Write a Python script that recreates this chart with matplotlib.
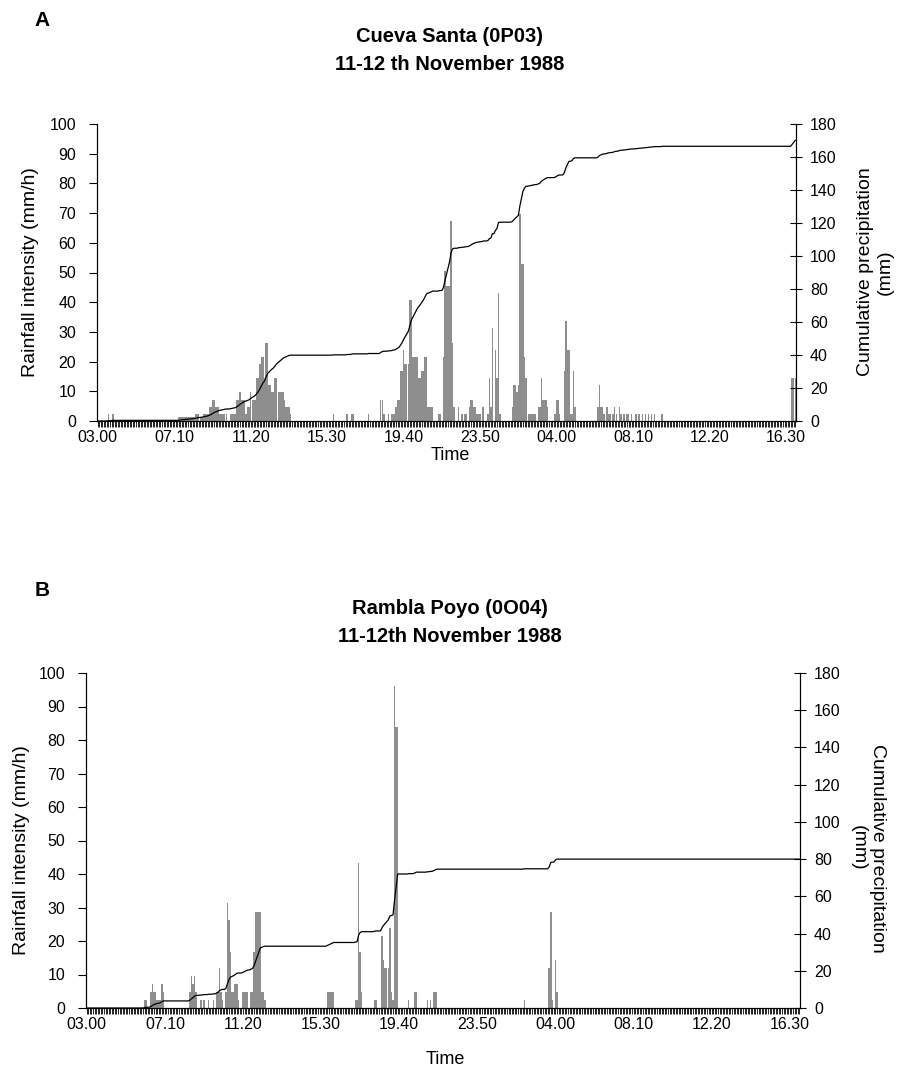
import numpy as np
import matplotlib
matplotlib.use("Agg")
import matplotlib.pyplot as plt
from matplotlib import font_manager

# 5-minute rainfall intensity (mm/h), 03.00 on the 11th to 17.00 on the 12th
# one row per hour, 12 readings each
rain_a = [
    0, 0, 0, 0, 0, 0, 0, 2.4, 0, 0, 2.4, 0,                      # 03
    0, 0, 0, 0, 0, 0, 0, 0, 0, 0, 0, 0,                          # 04
    0, 0, 0, 0, 0, 0, 0, 0, 0, 0, 0, 0,                          # 05
    0, 0, 0, 0, 0, 0, 0, 0, 0, 0, 0, 0,                          # 06
    0, 0, 0, 0, 0, 1.2, 1.2, 1.2, 1.2, 1.2, 1.2, 1.2,            # 07
    1.2, 1.2, 1.2, 1.2, 2.4, 2.4, 2.4, 1.2, 1.2, 2.4, 2.4, 2.4,  # 08
    2.4, 4.8, 4.8, 7.2, 7.2, 4.8, 4.8, 4.8, 2.4, 2.4, 2.4, 2.4,  # 09
    2.4, 0, 0, 2.4, 2.4, 2.4, 2.4, 7.2, 7.2, 9.6, 7.2, 7.2,      # 10
    7.2, 2.4, 4.8, 4.8, 9.6, 7.2, 7.2, 7.2, 14.4, 14.4, 19.2, 21.6,    # 11
    21.6, 14.4, 26.4, 26.4, 12, 12, 9.6, 9.6, 14.4, 14.4, 9.6, 9.6,    # 12
    9.6, 9.6, 7.2, 4.8, 4.8, 4.8, 2.4, 0, 0, 0, 0, 0,            # 13
    0, 0, 0, 0, 0, 0, 0, 0, 0, 0, 0, 0,                          # 14
    0, 0, 0, 0, 0, 0, 0, 0, 0, 0, 2.4, 0,                        # 15
    0, 0, 0, 0, 0, 0, 0, 2.4, 0, 0, 2.4, 2.4,                    # 16
    0, 0, 0, 0, 0, 0, 0, 0, 0, 2.4, 0, 0,                        # 17
    0, 0, 0, 0, 0, 7.2, 7.2, 2.4, 0, 0, 2.4, 0,                  # 18
    2.4, 2.4, 2.4, 4.8, 7.2, 7.2, 16.8, 16.8, 24, 19.2, 19.2, 19.2,    # 19
    40.8, 40.8, 21.6, 21.6, 21.6, 21.6, 14.4, 14.4, 16.8, 16.8, 21.6, 21.6,  # 20
    4.8, 4.8, 4.8, 4.8, 0, 0, 0, 2.4, 2.4, 0, 21.6, 50.4,        # 21
    45.6, 45.6, 45.6, 67.2, 26.4, 4.8, 0, 0, 4.8, 0, 2.4, 0,     # 22
    2.4, 2.4, 0, 4.8, 7.2, 7.2, 4.8, 4.8, 2.4, 2.4, 2.4, 0,      # 23
    4.8, 0, 0, 2.4, 14.4, 4.8, 31.2, 0, 24, 14.4, 43.2, 2.4,     # 00
    0, 0, 0, 0, 0, 0, 0, 4.8, 12, 12, 9.6, 12,                   # 01
    69.6, 52.8, 52.8, 21.6, 14.4, 0, 2.4, 2.4, 2.4, 2.4, 2.4, 0, # 02
    4.8, 4.8, 14.4, 7.2, 7.2, 7.2, 4.8, 0, 0, 0, 0, 2.4,         # 03
    7.2, 7.2, 2.4, 0, 0, 16.8, 33.6, 24, 24, 2.4, 2.4, 16.8,     # 04
    4.8, 0, 0, 0, 0, 0, 0, 0, 0, 0, 0, 0,                        # 05
    0, 0, 0, 4.8, 12, 4.8, 4.8, 2.4, 0, 4.8, 2.4, 2.4,           # 06
    0, 2.4, 4.8, 2.4, 0, 4.8, 2.4, 0, 2.4, 0, 2.4, 2.4,          # 07
    0, 2.4, 0, 0, 2.4, 0, 2.4, 0, 2.4, 0, 2.4, 0,                # 08
    2.4, 0, 2.4, 0, 2.4, 0, 0, 0, 0, 2.4, 0, 0,                  # 09
    0, 0, 0, 0, 0, 0, 0, 0, 0, 0, 0, 0,                          # 10
    0, 0, 0, 0, 0, 0, 0, 0, 0, 0, 0, 0,                          # 11
    0, 0, 0, 0, 0, 0, 0, 0, 0, 0, 0, 0,                          # 12
    0, 0, 0, 0, 0, 0, 0, 0, 0, 0, 0, 0,                          # 13
    0, 0, 0, 0, 0, 0, 0, 0, 0, 0, 0, 0,                          # 14
    0, 0, 0, 0, 0, 0, 0, 0, 0, 0, 0, 0,                          # 15
    0, 0, 0, 0, 0, 0, 0, 0, 0, 0, 14.4, 14.4,                    # 16
    14.4,                                                        # 17
]

rain_b = [
    0, 0, 0, 0, 0, 0, 0, 0, 0, 0, 0, 0,                          # 03
    0, 0, 0, 0, 0, 0, 0, 0, 0, 0, 0, 0,                          # 04
    0, 0, 0, 0, 0, 0, 0, 0, 0, 0, 0, 0,                          # 05
    0, 2.4, 2.4, 0, 0, 4.8, 7.2, 4.8, 4.8, 2.4, 2.4, 2.4,        # 06
    7.2, 4.8, 0, 0, 0, 0, 0, 0, 0, 0, 0, 0,                      # 07
    0, 0, 0, 0, 0, 0, 4.8, 9.6, 7.2, 9.6, 4.8, 0,                # 08
    0, 2.4, 0, 2.4, 0, 0, 2.4, 0, 0, 2.4, 0, 4.8,                # 09
    4.8, 12, 4.8, 2.4, 0, 4.8, 31.2, 26.4, 16.8, 4.8, 4.8, 7.2,  # 10
    7.2, 2.4, 0, 0, 4.8, 4.8, 4.8, 4.8, 0, 4.8, 4.8, 16.8,       # 11
    28.8, 28.8, 28.8, 28.8, 4.8, 4.8, 2.4, 0, 0, 0, 0, 0,        # 12
    0, 0, 0, 0, 0, 0, 0, 0, 0, 0, 0, 0,                          # 13
    0, 0, 0, 0, 0, 0, 0, 0, 0, 0, 0, 0,                          # 14
    0, 0, 0, 0, 0, 0, 0, 0, 0, 0, 4.8, 4.8,                      # 15
    4.8, 4.8, 4.8, 0, 0, 0, 0, 0, 0, 0, 0, 0,                    # 16
    0, 0, 0, 0, 2.4, 2.4, 43.2, 16.8, 4.8, 0, 0, 0,              # 17
    0, 0, 0, 0, 2.4, 2.4, 0, 0, 0, 21.6, 14.4, 12,               # 18
    12, 12, 24, 4.8, 2.4, 96, 84, 84, 0, 0, 0, 0,                # 19
    0, 0, 2.4, 0, 0, 0, 4.8, 4.8, 0, 0, 0, 0,                    # 20
    0, 0, 2.4, 0, 2.4, 0, 4.8, 4.8, 4.8, 0, 0, 0,                # 21
    0, 0, 0, 0, 0, 0, 0, 0, 0, 0, 0, 0,                          # 22
    0, 0, 0, 0, 0, 0, 0, 0, 0, 0, 0, 0,                          # 23
    0, 0, 0, 0, 0, 0, 0, 0, 0, 0, 0, 0,                          # 00
    0, 0, 0, 0, 0, 0, 0, 0, 0, 0, 0, 0,                          # 01
    0, 0, 0, 0, 2.4, 0, 0, 0, 0, 0, 0, 0,                        # 02
    0, 0, 0, 0, 0, 0, 0, 0, 12, 28.8, 2.4, 0,                    # 03
    14.4, 4.8, 0, 0, 0, 0, 0, 0, 0, 0, 0, 0,                     # 04
    0, 0, 0, 0, 0, 0, 0, 0, 0, 0, 0, 0,                          # 05
    0, 0, 0, 0, 0, 0, 0, 0, 0, 0, 0, 0,                          # 06
    0, 0, 0, 0, 0, 0, 0, 0, 0, 0, 0, 0,                          # 07
    0, 0, 0, 0, 0, 0, 0, 0, 0, 0, 0, 0,                          # 08
    0, 0, 0, 0, 0, 0, 0, 0, 0, 0, 0, 0,                          # 09
    0, 0, 0, 0, 0, 0, 0, 0, 0, 0, 0, 0,                          # 10
    0, 0, 0, 0, 0, 0, 0, 0, 0, 0, 0, 0,                          # 11
    0, 0, 0, 0, 0, 0, 0, 0, 0, 0, 0, 0,                          # 12
    0, 0, 0, 0, 0, 0, 0, 0, 0, 0, 0, 0,                          # 13
    0, 0, 0, 0, 0, 0, 0, 0, 0, 0, 0, 0,                          # 14
    0, 0, 0, 0, 0, 0, 0, 0, 0, 0, 0, 0,                          # 15
    0, 0, 0, 0, 0, 0, 0, 0, 0, 0, 0, 0,                          # 16
    0,                                                           # 17
]

tick_labels = ["03.00", "07.10", "11.20", "15.30", "19.40",
               "23.50", "04.00", "08.10", "12.20", "16.30"]
label_every = 50  # 4h10 in 5-minute steps

titles_a = ["Cueva Santa (0P03)", "11-12 th November 1988"]
titles_b = ["Rambla Poyo (0O04)", "11-12th November 1988"]

plt.rcParams['font.family'] = ['Liberation Sans', 'DejaVu Sans']
names = {f.name for f in font_manager.fontManager.ttflist}
if 'Liberation Sans Narrow' in names:
    title_font = dict(family=['Liberation Sans Narrow', 'Liberation Sans'], fontsize=16.5)
else:
    title_font = dict(family=['Liberation Sans'], fontsize=14.5)

fig = plt.figure(figsize=(9, 10.75), dpi=100)


def panel(rect, rain):
    rain = np.array(rain)
    x = np.arange(len(rain))
    cum = np.cumsum(rain) / 12.0   # mm/h over 5 minutes

    ax = fig.add_axes(rect)
    ax.bar(x, rain, width=0.95, color='#8e8e8e', linewidth=0)
    ax.set_xlim(-0.5, len(rain) - 0.5)
    ax.set_ylim(0, 100)
    ax.set_yticks(range(0, 101, 10))

    labels = [''] * len(rain)
    for i, lab in enumerate(tick_labels):
        labels[i * label_every] = lab
    ax.set_xticks(x)
    ax.set_xticklabels(labels)
    ax.tick_params(axis='x', length=4, width=0.6, direction='out', pad=2.5,
                   labelsize=11.5)
    ax.tick_params(axis='y', length=6, width=0.8, direction='out', pad=9,
                   labelsize=11.5)

    ax2 = ax.twinx()
    ax2.plot(x, cum, color='black', lw=0.9)
    ax2.set_ylim(0, 180)
    ax2.set_yticks(range(0, 181, 20))
    ax2.tick_params(axis='y', length=8, width=0.8, direction='inout', pad=6,
                    labelsize=11.5)

    for a in (ax, ax2):
        a.spines['top'].set_visible(False)
        for s in ('left', 'right', 'bottom'):
            a.spines[s].set_linewidth(0.8)
    return ax, ax2


# panel A
panel([97 / 900, 1 - 421 / 1075, 699 / 900, 297 / 1075], rain_a)
fig.text(42 / 900, 1 - 20 / 1075, "A", fontsize=15, fontweight='bold',
         ha='center', va='center')
fig.text(0.5, 1 - 36 / 1075, titles_a[0], fontweight='bold', ha='center',
         va='center', **title_font)
fig.text(0.5, 1 - 64 / 1075, titles_a[1], fontweight='bold', ha='center',
         va='center', **title_font)
fig.text(31 / 900, 1 - 272 / 1075, "Rainfall intensity (mm/h)", rotation=90,
         fontsize=14, ha='center', va='center')
fig.text(875 / 900, 1 - 272 / 1075, "Cumulative precipitation\n(mm)",
         rotation=90, fontsize=14, ha='center', va='center',
         multialignment='center')
fig.text(450 / 900, 1 - 456 / 1075, "Time", fontsize=13, ha='center',
         va='center')

# panel B
panel([86 / 900, 1 - 1008 / 1075, 714 / 900, 335 / 1075], rain_b)
fig.text(42 / 900, 1 - 591 / 1075, "B", fontsize=15, fontweight='bold',
         ha='center', va='center')
fig.text(0.5, 1 - 608 / 1075, titles_b[0], fontweight='bold', ha='center',
         va='center', **title_font)
fig.text(0.5, 1 - 636 / 1075, titles_b[1], fontweight='bold', ha='center',
         va='center', **title_font)
fig.text(22 / 900, 1 - 850 / 1075, "Rainfall intensity (mm/h)", rotation=90,
         fontsize=14, ha='center', va='center')
fig.text(868 / 900, 1 - 848 / 1075, "Cumulative precipitation\n(mm)",
         rotation=270, fontsize=14, ha='center', va='center',
         multialignment='center')
fig.text(445 / 900, 1 - 1060 / 1075, "Time", fontsize=13, ha='center',
         va='center')

fig.savefig("out.png", dpi=100, facecolor='white')
